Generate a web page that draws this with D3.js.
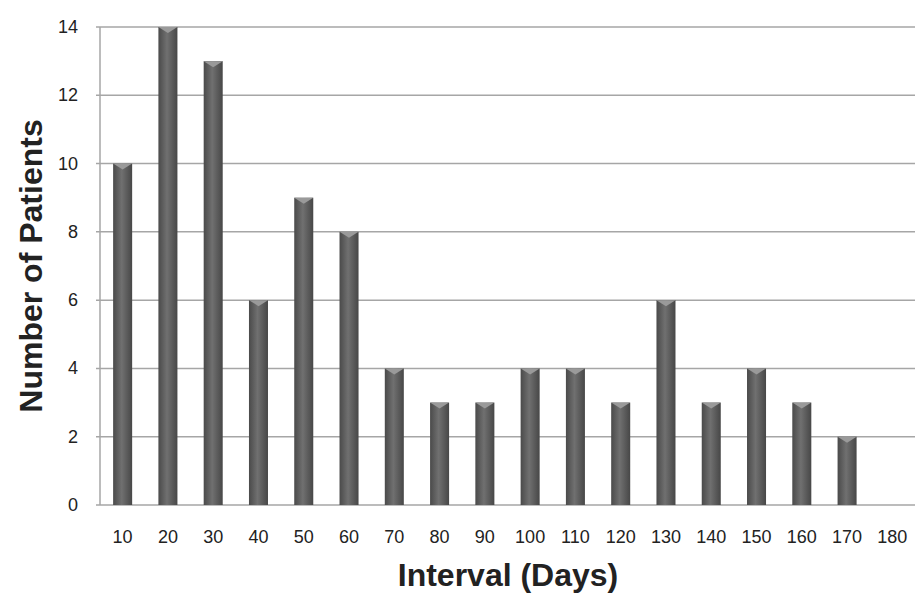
<!DOCTYPE html>
<html><head><meta charset="utf-8">
<script src="https://cdn.jsdelivr.net/npm/d3@7"></script>
<style>body{margin:0;background:#fff}</style>
</head><body>
<svg id="chart" width="915" height="594"></svg>
<script>
const intervalos = ["10","20","30","40","50","60","70","80","90","100","110","120","130","140","150","160","170","180"];
const pacientes = [10,14,13,6,9,8,4,3,3,4,4,3,6,3,4,3,2,0];
const ticksY = [0,2,4,6,8,10,12,14];

const svg = d3.select("#chart");
const margem = {left: 100, right: 0, top: 27, bottom: 89};
const largura = 915 - margem.left - margem.right;
const altura = 594 - margem.top - margem.bottom;
const fonte = "Liberation Sans, Arial, sans-serif";

const x = d3.scaleBand().domain(intervalos).range([margem.left, margem.left + largura]).paddingInner(0.58).paddingOuter(0.29);
const y = d3.scaleLinear().domain([0, 14]).range([margem.top + altura, margem.top]);

const grad = svg.append("defs").append("linearGradient").attr("id", "barra");
grad.append("stop").attr("offset", "0%").attr("stop-color", "#4a4a4a");
grad.append("stop").attr("offset", "45%").attr("stop-color", "#707070");
grad.append("stop").attr("offset", "100%").attr("stop-color", "#474747");

svg.selectAll("line.grid")
  .data(ticksY)
  .enter()
  .append("line")
  .attr("class", "grid")
  .attr("x1", margem.left - 4)
  .attr("x2", 915)
  .attr("y1", d => y(d))
  .attr("y2", d => y(d))
  .attr("stroke", "#a6a6a6")
  .attr("stroke-width", 1.5);

svg.append("line")
  .attr("x1", margem.left).attr("x2", margem.left)
  .attr("y1", y(14)).attr("y2", y(0))
  .attr("stroke", "#a6a6a6").attr("stroke-width", 1.5);

svg.selectAll("rect.bar")
  .data(pacientes)
  .enter()
  .append("rect")
  .attr("class", "bar")
  .attr("x", (d, i) => x(intervalos[i]))
  .attr("y", d => y(d))
  .attr("width", x.bandwidth())
  .attr("height", d => y(0) - y(d))
  .attr("fill", "url(#barra)");

// pequeno chanfro no topo
pacientes.forEach((d, i) => {
  if (d === 0) return;
  const x0 = x(intervalos[i]), w = x.bandwidth(), y0 = y(d);
  svg.append("path")
    .attr("d", `M${x0},${y0}L${x0 + w},${y0}L${x0 + w / 2},${y0 + 6}Z`)
    .attr("fill", "#9a9a9a");
});

svg.selectAll("text.ylab")
  .data(ticksY)
  .enter()
  .append("text")
  .attr("class", "ylab")
  .attr("x", 78)
  .attr("y", d => y(d) + 6)
  .attr("text-anchor", "end")
  .attr("font-family", fonte)
  .attr("font-size", "18px")
  .attr("fill", "#222")
  .text(d => d);

svg.selectAll("text.xlab")
  .data(intervalos)
  .enter()
  .append("text")
  .attr("class", "xlab")
  .attr("x", d => x(d) + x.bandwidth() / 2)
  .attr("y", 543)
  .attr("text-anchor", "middle")
  .attr("font-family", fonte)
  .attr("font-size", "18px")
  .attr("fill", "#222")
  .text(d => d);

svg.append("text")
  .attr("x", 508).attr("y", 586)
  .attr("text-anchor", "middle")
  .attr("font-family", fonte)
  .attr("font-size", "32px").attr("font-weight", "bold")
  .attr("fill", "#222")
  .text("Interval (Days)");

svg.append("text")
  .attr("transform", "translate(42,266) rotate(-90)")
  .attr("text-anchor", "middle")
  .attr("font-family", fonte)
  .attr("font-size", "32px").attr("font-weight", "bold")
  .attr("fill", "#222")
  .text("Number of Patients");
</script>
</body></html>
